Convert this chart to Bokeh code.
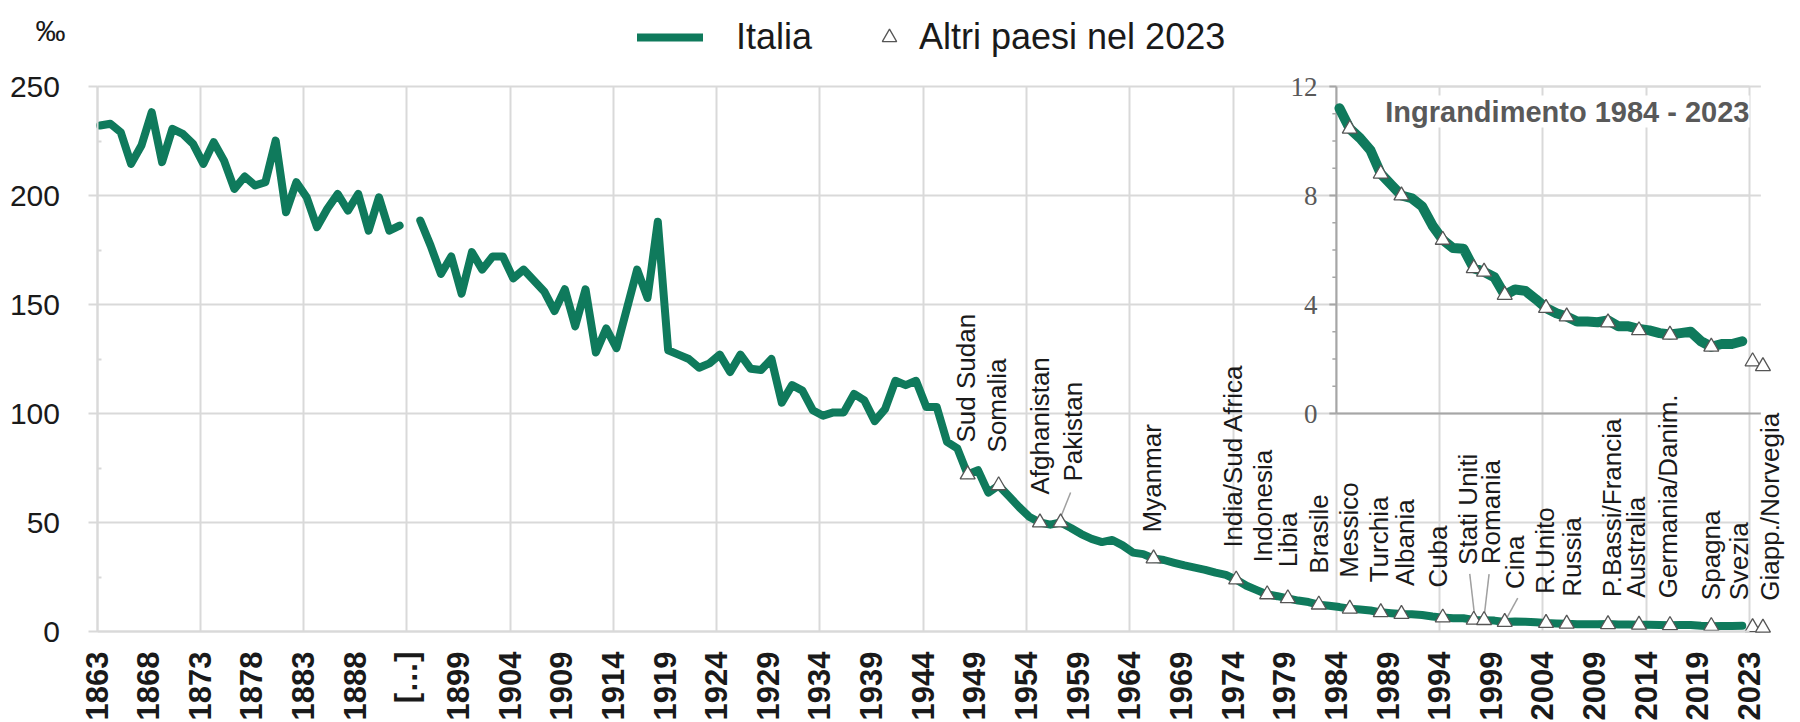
import math
from bokeh.plotting import figure
from bokeh.models import (Range1d, FixedTicker, ColumnDataSource, LabelSet, Label,
                          Legend, LegendItem)
from bokeh.core.properties import value
from bokeh.embed import file_html
from bokeh.resources import INLINE

# ---------------- data ----------------
years_early = list(range(1863, 1893))
italia_early = [232.1, 232.9, 229.0, 214.5, 222.9, 238.2, 215.3, 230.6, 228.3, 223.7,
                214.5, 224.5, 216.0, 203.0, 208.7, 204.6, 206.1, 225.2, 192.3, 206.1,
                199.2, 185.5, 193.9, 200.7, 193.1, 200.7, 183.9, 199.2, 183.9, 186.2]

years_late = list(range(1895, 2024))
italia_late = [188.5, 177.0, 164.0, 172.0, 155.0, 174.0, 166.0, 172.0, 172.0, 162.0,
               166.0, 161.0, 156.0, 147.0, 157.0, 140.0, 157.0, 128.0, 139.0, 130.0,
               148.0, 166.0, 153.0, 188.0, 129.0, 127.0, 125.0, 121.0, 123.0, 127.0,
               119.0, 127.0, 120.5, 120.0, 125.0, 105.0, 113.0, 110.5, 101.5, 99.0,
               100.5, 100.5, 109.0, 106.0, 96.5, 102.0, 115.0, 113.0, 115.0, 103.0,
               103.0, 87.0, 84.0, 72.0, 74.0, 63.7, 67.0, 62.0, 57.0, 52.5,
               50.0, 49.0, 50.0, 47.5, 44.7, 42.5, 41.0, 42.0, 39.5, 36.2,
               35.5, 33.5, 32.8, 31.5, 30.3, 29.3, 28.3, 27.0, 26.0, 23.8,
               21.0, 19.0, 17.0, 16.2, 15.2, 14.2, 13.5, 12.3, 11.8, 11.2,
               10.45, 10.1, 9.66, 8.8, 8.4, 8.0, 7.9, 7.6, 6.9, 6.37,
               6.07, 6.05, 5.33, 5.2, 5.0, 4.35, 4.55, 4.5, 4.2, 3.87,
               3.68, 3.56, 3.38, 3.38, 3.35, 3.42, 3.2, 3.2, 3.1, 3.05,
               2.95, 2.9, 2.95, 3.0, 2.65, 2.45, 2.55, 2.55, 2.65]

paesi = ["Sud Sudan", "Somalia", "Afghanistan", "Pakistan", "Myanmar",
         "India/Sud Africa", "Indonesia", "Libia", "Brasile", "Messico",
         "Turchia", "Albania", "Cuba", "Stati Uniti", "Romania", "Cina",
         "R.Unito", "Russia", "P.Bassi/Francia", "Australia", "Germania/Danim.",
         "Spagna", "Svezia", "Giapp./Norvegia"]
# year of Italy's series at which the country's 2023 rate is reached
# (the last two are below Italy 2023 and sit just after the series end)
paesi_anno = [1948, 1951, 1955, 1957, 1966, 1974, 1977, 1979, 1982, 1985,
              1988, 1990, 1994, 1997, 1998, 2000, 2004, 2006, 2010, 2013,
              2016, 2020, 2024, 2025]
paesi_valore = [72.0, 67.0, 50.0, 50.0, 33.5, 23.8, 17.0, 15.2, 12.3, 10.45,
                8.8, 8.0, 6.37, 5.33, 5.2, 4.35, 3.87, 3.56, 3.34, 3.05,
                2.89, 2.45, 1.91, 1.73]

tick_labels = ["1863", "1868", "1873", "1878", "1883", "1888", "[…]",
               "1899", "1904", "1909", "1914", "1919", "1924", "1929", "1934",
               "1939", "1944", "1949", "1954", "1959", "1964", "1969", "1974",
               "1979", "1984", "1989", "1994", "1999", "2004", "2009", "2014",
               "2019", "2023"]
main_ticks = [0, 50, 100, 150, 200, 250]
main_minor = [25, 75, 125, 175, 225]
inset_ticks = [0, 4, 8, 12]
inset_minor = [1, 2, 3, 5, 6, 7, 9, 10, 11]
inset_start_year = 1984

# ---------------- layout / style ----------------
FONT = "'Liberation Sans', Arial, sans-serif"
GREEN = "#0f7a5c"
GRID = "#d9d9d9"
AXIS_INSET = "#a6a6a6"
TXT = "#1a1a1a"
GRAY_TXT = "#595959"

W, H = 1800, 722
X0_PX, X160_PX = 96.5, 1749.0     # canvas px of category boundaries 0 and 160
Y0_PX, Y250_PX = 631.0, 86.0      # canvas px of 0 and 250 per mille
PXX = (X160_PX - X0_PX) / 160
PXY = (Y0_PX - Y250_PX) / 250
X_START = -X0_PX / PXX
X_END = X_START + W / PXX
Y_START = -(H - Y0_PX) / PXY
Y_END = Y0_PX / PXY
SHIFT = 0.3


def xpos(year):
    k = year - 1863 if year <= 1892 else year - 1864
    return k + SHIFT


def main_to_inset(v):
    return (v - 100) * 12 / 150


p = figure(width=W, height=H, x_range=Range1d(X_START, X_END), y_range=Range1d(Y_START, Y_END),
           output_backend="svg", toolbar_location=None,
           min_border_left=0, min_border_right=0, min_border_top=0, min_border_bottom=0)
p.extra_y_ranges = {"inset": Range1d(main_to_inset(Y_START), main_to_inset(Y_END))}
p.outline_line_color = None
p.background_fill_color = "white"
p.border_fill_color = "white"

n_cat = 5 * (len(tick_labels) - 1)

# grids
p.xgrid.ticker = FixedTicker(ticks=list(range(0, n_cat + 1, 10)))
p.xgrid.grid_line_color = GRID
p.xgrid.grid_line_width = 2
p.xgrid.cross_bounds = (0, 250)
p.ygrid.ticker = FixedTicker(ticks=main_ticks)
p.ygrid.grid_line_color = GRID
p.ygrid.grid_line_width = 2
p.ygrid.cross_bounds = (0, n_cat)

# x axis at y = 0
p.xaxis.fixed_location = 0
p.xaxis.ticker = FixedTicker(ticks=list(range(0, n_cat + 1, 5)))
p.xaxis.major_label_overrides = {i * 5: t for i, t in enumerate(tick_labels)}
p.xaxis.major_label_orientation = math.pi / 2
p.xaxis.major_label_standoff = 20
p.xaxis.major_label_text_font = FONT
p.xaxis.major_label_text_font_style = "bold"
p.xaxis.major_label_text_font_size = "31px"
p.xaxis.major_label_text_color = TXT
p.xaxis.major_tick_out = 0
p.xaxis.major_tick_in = 0
p.xaxis.minor_tick_out = 0
p.xaxis.minor_tick_in = 0
p.xaxis.axis_line_color = GRID
p.xaxis.axis_line_width = 2
p.xaxis.bounds = (0, n_cat)

# y axis at x = 0
p.yaxis.fixed_location = 0
p.yaxis.ticker = FixedTicker(ticks=main_ticks, minor_ticks=main_minor)
p.yaxis.bounds = (0, 250)
p.yaxis.axis_line_color = GRID
p.yaxis.axis_line_width = 2
p.yaxis.major_tick_line_color = GRID
p.yaxis.major_tick_line_width = 2
p.yaxis.major_tick_out = 9
p.yaxis.major_tick_in = 0
p.yaxis.minor_tick_line_color = GRID
p.yaxis.minor_tick_line_width = 2
p.yaxis.minor_tick_in = 4
p.yaxis.minor_tick_out = 0
p.yaxis.major_label_standoff = 28
p.yaxis.major_label_text_font = FONT
p.yaxis.major_label_text_font_size = "30px"
p.yaxis.major_label_text_color = TXT

# ---------------- inset decorations (secondary scale) ----------------
x_in0 = xpos(inset_start_year) - SHIFT
x_in1 = x_in0 + 41.1
p.segment(x0=[x_in0] * 3, x1=[x_in1] * 3, y0=inset_ticks[1:], y1=inset_ticks[1:],
          y_range_name="inset", line_color=GRID, line_width=2)
p.segment(x0=[x_in0], x1=[x_in1], y0=[0], y1=[0], y_range_name="inset",
          line_color=AXIS_INSET, line_width=2)
p.segment(x0=[x_in0], x1=[x_in0], y0=[0], y1=[12], y_range_name="inset",
          line_color=AXIS_INSET, line_width=2)
p.segment(x0=[x_in0 - 7 / PXX] * len(inset_ticks), x1=[x_in0] * len(inset_ticks),
          y0=inset_ticks, y1=inset_ticks, y_range_name="inset",
          line_color=AXIS_INSET, line_width=2)
p.segment(x0=[x_in0 - 4 / PXX] * len(inset_minor), x1=[x_in0] * len(inset_minor),
          y0=inset_minor, y1=inset_minor, y_range_name="inset",
          line_color=AXIS_INSET, line_width=1.5)
ilab_src = ColumnDataSource(dict(x=[x_in0 - 19 / PXX] * len(inset_ticks),
                                 y=inset_ticks, t=[str(v) for v in inset_ticks]))
p.add_layout(LabelSet(x="x", y="y", text="t", source=ilab_src, y_range_name="inset",
                      text_align="right", text_baseline="middle", text_font=FONT,
                      text_font_size="27px", text_color=GRAY_TXT))

# ---------------- main series ----------------
xs = [xpos(y) for y in years_early] + [float("nan")] + [xpos(y) for y in years_late]
ys = italia_early + [float("nan")] + italia_late
line_r = p.line(xs, ys, line_color=GREEN, line_width=8, line_cap="round", line_join="round")

iy = [y for y in years_late if y >= inset_start_year]
iv = [v for y, v in zip(years_late, italia_late) if y >= inset_start_year]
p.line([xpos(y) for y in iy], iv, y_range_name="inset", line_color=GREEN,
       line_width=10, line_cap="round", line_join="round")

# leader lines (px offsets from the triangle: dx0, up0, dx1, up1)
LEADERS = {"Pakistan": (10, 30, 0, 5), "Stati Uniti": (-4, 46, 1, 3),
           "Romania": (5, 46, 0, 3), "Cina": (13, 24, 2, 4)}
lx0, lx1, ly0, ly1 = [], [], [], []
for n, a, v in zip(paesi, paesi_anno, paesi_valore):
    if n in LEADERS:
        d0, u0, d1, u1 = LEADERS[n]
        lx0.append(xpos(a) + d0 / PXX); ly0.append(v + u0 / PXY)
        lx1.append(xpos(a) + d1 / PXX); ly1.append(v + u1 / PXY)
p.segment(x0=lx0, y0=ly0, x1=lx1, y1=ly1, line_color="#a0a0a0", line_width=1.5)

tri_r = p.scatter([xpos(a) for a in paesi_anno], paesi_valore, marker="triangle", size=15,
                  fill_color="white", line_color="#555555", line_width=1.3)

sel = [(a, v) for a, v in zip(paesi_anno, paesi_valore) if a >= inset_start_year and v < 12]
p.scatter([xpos(a) for a, v in sel], [v for a, v in sel], y_range_name="inset",
          marker="triangle", size=15, fill_color="white", line_color="#555555", line_width=1.3)

# country labels (foot offsets in px: horizontal shift, height above the triangle)
LBL_DX = [-2, -2, 0, 12, -2, -3, -4, 0, 0, -1, -2, 4, -5, -6, 7, 10, -1, 5, 4, -3, -2, 0, -14, 7]
LBL_UP = [32, 33, 28, 41, 26, 32, 32, 31, 31, 31, 30, 28, 30, 55, 56, 33, 29, 27, 27, 27, 27, 26, 27, 27]
p.text([xpos(a) + dx / PXX for a, dx in zip(paesi_anno, LBL_DX)],
       [v + up / PXY for v, up in zip(paesi_valore, LBL_UP)],
       text=paesi, angle=math.pi / 2, text_align="left", text_baseline="middle",
       text_font=value(FONT), text_font_size="26px", text_color=TXT)

# inset title
p.add_layout(Label(x=n_cat, y=(Y0_PX - 111) / PXY, text="Ingrandimento 1984 - 2023",
                   text_align="right", text_baseline="middle",
                   text_font=FONT, text_font_style="bold", text_font_size="29px",
                   text_color=GRAY_TXT, background_fill_color="white"))

# unit label
p.text([-(X0_PX - 50) / PXX], [(Y0_PX - 30) / PXY], text=["‰"], text_align="center",
       text_baseline="middle", text_font=value(FONT), text_font_size="30px", text_color=TXT)

# legends (positions in px from the bottom-left corner of the canvas)
leg1 = Legend(items=[LegendItem(label="Italia", renderers=[line_r])], location=(637, H - 59),
              orientation="horizontal", glyph_width=66, glyph_height=44, label_height=44,
              label_standoff=33, padding=0, margin=0, spacing=0, border_line_color=None,
              background_fill_alpha=0, label_text_font=FONT, label_text_font_size="36px",
              label_text_color=TXT)
leg2 = Legend(items=[LegendItem(label="Altri paesi nel 2023", renderers=[tri_r])],
              location=(871, H - 59), orientation="horizontal", glyph_width=36, glyph_height=44,
              label_height=44, label_standoff=12, padding=0, margin=0, spacing=0,
              border_line_color=None, background_fill_alpha=0, label_text_font=FONT,
              label_text_font_size="36px", label_text_color=TXT)
p.add_layout(leg1, "center")
p.add_layout(leg2, "center")

open("out.html", "w").write(file_html(p, INLINE))
